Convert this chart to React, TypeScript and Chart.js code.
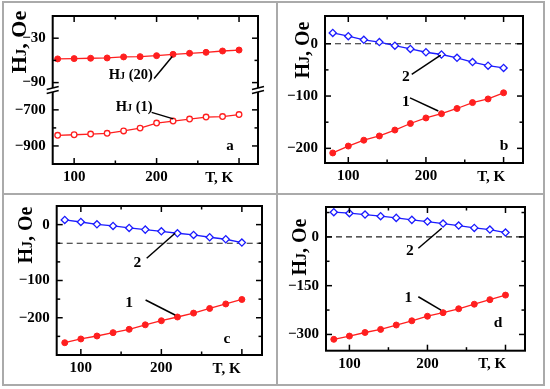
import React, { useEffect, useRef } from "react";
import { Chart, registerables } from "chart.js";
Chart.register(...registerables);

const FONT = "'Liberation Serif', 'Times New Roman', serif";
const RED = "#ff1f1f";
const BLUE = "#1c1cff";

// ---------- data ----------
const T_K = [80, 100, 120, 140, 160, 180, 200, 220, 240, 260, 280, 300];

const A_HJ20 = [-58, -57.6, -57.1, -56.7, -55.3, -54.9, -53.6, -51.8, -50.4, -49.1, -47.3, -46];
const A_HJ1 = [-841, -838, -834, -830, -817, -801, -773, -762, -751, -740, -737, -726];

const B_S1 = [-208.8, -195.6, -184.4, -176.3, -165, -152.5, -141.9, -133.8, -123.8, -112.5, -105.6, -93.8];
const B_S2 = [20.6, 14.4, 7.5, 3.1, -3.8, -10, -16.3, -20.6, -26.9, -35, -41.9, -46.3];

const C_S1 = [-267, -257, -249, -240, -231, -219, -208, -198, -187.5, -175, -163, -151];
const C_S2 = [62.5, 57.1, 50.9, 46.4, 41.1, 36.6, 32.1, 26.8, 22.3, 16.1, 10.7, 1.8];

const D_S1 = [-315, -305, -294, -284.5, -271, -258, -244, -233, -221, -207, -193, -179];
const D_S2 = [76, 72.9, 68.8, 63.7, 58.5, 52.4, 47.2, 41.1, 34.9, 27.7, 22.6, 13.4];

// ---------- ticks ----------
const X_MAJOR = [100, 200, 300];
const X_MINOR = [150, 250];
const X_LABELS: Record<string, string> = { "100": "100", "200": "200" };
const X_TITLE = "T, K";

const A_TOP_MAJOR = [-30, -90];
const A_TOP_MINOR = [-60];
const A_TOP_LABELS: Record<string, string> = { "-30": "\u221230", "-90": "\u221290" };
const A_BOT_MAJOR = [-700, -900];
const A_BOT_MINOR = [-800];
const A_BOT_LABELS: Record<string, string> = { "-700": "\u2212700", "-900": "\u2212900" };

const B_MAJOR = [0, -100, -200];
const B_MINOR = [-50, -150];
const B_LABELS: Record<string, string> = { "0": "0", "-100": "\u2212100", "-200": "\u2212200" };

const C_MAJOR = [50, -100, -200];
const C_MINOR = [0, -50, -150, -250];
const C_LABELS: Record<string, string> = { "50": "0", "-100": "\u2212100", "-200": "\u2212200" };

const D_MAJOR = [0, -150, -300];
const D_MINOR = [75, -75, -225];
const D_LABELS: Record<string, string> = { "0": "0", "-150": "\u2212150", "-300": "\u2212300" };

type YAx = { id: string; min: number; max: number; major: number[]; minor: number[]; labels: Record<string, string>; weight?: number };
type Txt = { x: number; y: number; axis: string; text: string; size: number; hj?: boolean };
type Ln = { x1: number; y1: number; x2: number; y2: number; axis: string };
type DS = { data: number[]; axis: string; style: "filled" | "hollow" | "diamond" };
type Spec = {
  pad: { left: number; right: number; top: number; bottom: number };
  xMin: number; xMax: number;
  yAxes: YAx[];
  datasets: DS[];
  dashedZero?: string;
  title: { dx: number; dy: number; size: number };
  texts: Txt[];
  lines: Ln[];
  xTitleAt: number;
};

const PANELS: Spec[] = [
  {
    pad: { left: 7.7, right: 292, top: 14, bottom: 200 },
    xMin: 74, xMax: 323,
    yAxes: [
      { id: "yBot", min: -1000, max: -590, major: A_BOT_MAJOR, minor: A_BOT_MINOR, labels: A_BOT_LABELS },
      { id: "yTop", min: -100, max: 0, major: A_TOP_MAJOR, minor: A_TOP_MINOR, labels: A_TOP_LABELS },
    ],
    datasets: [
      { data: A_HJ20, axis: "yTop", style: "filled" },
      { data: A_HJ1, axis: "yBot", style: "hollow" },
    ],
    title: { dx: 34, dy: 26, size: 22 },
    texts: [
      { x: 168.7, y: -79, axis: "yTop", text: " (20)", size: 14.5, hj: true },
      { x: 172.8, y: -682, axis: "yBot", text: " (1)", size: 14.5, hj: true },
      { x: 289, y: -896, axis: "yBot", text: "a", size: 15 },
    ],
    lines: [
      { x1: 197, y1: -84.4, x2: 219, y2: -54.7, axis: "yTop" },
      { x1: 194, y1: -714, x2: 220.3, y2: -750, axis: "yBot" },
    ],
    xTitleAt: 276,
  },
  {
    pad: { left: 280, right: 27, top: 13.3, bottom: 201 },
    xMin: 70, xMax: 325,
    yAxes: [{ id: "y", min: -228, max: 53, major: B_MAJOR, minor: B_MINOR, labels: B_LABELS }],
    datasets: [
      { data: B_S2, axis: "y", style: "diamond" },
      { data: B_S1, axis: "y", style: "filled" },
    ],
    dashedZero: "y",
    title: { dx: 23, dy: 34, size: 20 },
    texts: [
      { x: 174, y: -61, axis: "y", text: "2", size: 15.5 },
      { x: 174, y: -108.4, axis: "y", text: "1", size: 15.5 },
      { x: 300.5, y: -194, axis: "y", text: "b", size: 15.5 },
    ],
    lines: [
      { x1: 181.7, y1: -58.5, x2: 219, y2: -22, axis: "y" },
      { x1: 179.5, y1: -103.6, x2: 215.9, y2: -128.5, axis: "y" },
    ],
    xTitleAt: 284,
  },
  {
    pad: { left: 11.7, right: 288, top: 206, bottom: 9 },
    xMin: 70, xMax: 325,
    yAxes: [{ id: "y", min: -300, max: 100, major: C_MAJOR, minor: C_MINOR, labels: C_LABELS }],
    datasets: [
      { data: C_S2, axis: "y", style: "diamond" },
      { data: C_S1, axis: "y", style: "filled" },
    ],
    dashedZero: "y",
    title: { dx: 31, dy: 29, size: 20 },
    texts: [
      { x: 170.1, y: -49.5, axis: "y", text: "2", size: 15.5 },
      { x: 160.1, y: -156.9, axis: "y", text: "1", size: 15.5 },
      { x: 281.5, y: -254.4, axis: "y", text: "c", size: 15.5 },
    ],
    lines: [
      { x1: 181.8, y1: -40.4, x2: 217, y2: 26.7, axis: "y" },
      { x1: 180.4, y1: -152.3, x2: 217, y2: -192.6, axis: "y" },
    ],
    xTitleAt: 281,
  },
  {
    pad: { left: 281, right: 25, top: 207, bottom: 13.3 },
    xMin: 70, xMax: 325,
    yAxes: [{ id: "y", min: -350, max: 92, major: D_MAJOR, minor: D_MINOR, labels: D_LABELS }],
    datasets: [
      { data: D_S2, axis: "y", style: "diamond" },
      { data: D_S1, axis: "y", style: "filled" },
    ],
    dashedZero: "y",
    title: { dx: 27, dy: 40, size: 20 },
    texts: [
      { x: 177.6, y: -40.3, axis: "y", text: "2", size: 15.5 },
      { x: 175.5, y: -184, axis: "y", text: "1", size: 15.5 },
      { x: 290.4, y: -261.7, axis: "y", text: "d", size: 15.5 },
    ],
    lines: [
      { x1: 188.3, y1: -35, x2: 218.3, y2: 26.5, axis: "y" },
      { x1: 188.3, y1: -184, x2: 217.4, y2: -225, axis: "y" },
    ],
    xTitleAt: 283,
  },
];

function drawHJ(ctx: CanvasRenderingContext2D, cx: number, cy: number, size: number, rest: string) {
  const big = `bold ${size}px ${FONT}`;
  const small = `bold ${Math.round(size * 0.7)}px ${FONT}`;
  ctx.font = big;
  const wH = ctx.measureText("H").width;
  const wR = ctx.measureText(rest).width;
  ctx.font = small;
  const wJ = ctx.measureText("J").width;
  const total = wH + wJ + wR;
  let x = cx - total / 2;
  const base = cy + size * 0.33;
  ctx.textAlign = "left";
  ctx.textBaseline = "alphabetic";
  ctx.font = big;
  ctx.fillText("H", x, base);
  x += wH;
  ctx.font = small;
  ctx.fillText("J", x, base);
  x += wJ;
  ctx.font = big;
  ctx.fillText(rest, x, base);
}

function styleFor(s: DS["style"]) {
  if (s === "filled")
    return { borderColor: RED, backgroundColor: RED, pointBackgroundColor: RED, pointBorderColor: RED, pointRadius: 3, pointBorderWidth: 1, borderWidth: 1.3, pointStyle: "circle" };
  if (s === "hollow")
    return { borderColor: RED, backgroundColor: "#fff", pointBackgroundColor: "#fff", pointBorderColor: RED, pointRadius: 2.8, pointBorderWidth: 1.3, borderWidth: 1.3, pointStyle: "circle" };
  return { borderColor: BLUE, backgroundColor: "#fff", pointBackgroundColor: "#fff", pointBorderColor: BLUE, pointRadius: 3.6, pointBorderWidth: 1.3, borderWidth: 1.3, pointStyle: "rectRot" };
}

function buildConfig(p: Spec): any {
  const tickFont = { family: FONT, size: 15, weight: "bold" as const };
  const scales: any = {
    x: {
      type: "linear",
      position: "bottom",
      min: p.xMin,
      max: p.xMax,
      grid: { display: false, drawTicks: false },
      border: { display: false },
      afterFit: (s: any) => { s.height = 25; },
      afterBuildTicks: (s: any) => {
        s.ticks = [...X_MAJOR, ...X_MINOR].sort((a, b) => a - b).map((v) => ({ value: v }));
      },
      ticks: { autoSkip: false, maxRotation: 0, padding: 4, color: "#000", font: tickFont, callback: (v: any) => X_LABELS[String(v)] ?? "" },
    },
  };
  p.yAxes.forEach((ax) => {
    scales[ax.id] = {
      type: "linear",
      position: "left",
      min: ax.min,
      max: ax.max,
      ...(p.yAxes.length > 1 ? { stack: "a", stackWeight: ax.weight ?? 1 } : {}),
      grid: { display: false, drawTicks: false },
      border: { display: false },
      afterFit: (s: any) => { s.width = 45; },
      afterBuildTicks: (s: any) => {
        s.ticks = [...ax.major, ...ax.minor].sort((a, b) => a - b).map((v) => ({ value: v }));
      },
      ticks: { autoSkip: false, padding: 7, color: "#000", font: tickFont, callback: (v: any) => ax.labels[String(v)] ?? "" },
    };
  });

  const deco = {
    id: "deco",
    beforeDatasetsDraw(chart: any) {
      if (!p.dashedZero) return;
      const { ctx, chartArea: ca } = chart;
      const y = chart.scales[p.dashedZero].getPixelForValue(0);
      ctx.save();
      ctx.setLineDash([6, 4]);
      ctx.strokeStyle = "#222";
      ctx.lineWidth = 1.2;
      ctx.beginPath();
      ctx.moveTo(ca.left, y);
      ctx.lineTo(ca.right, y);
      ctx.stroke();
      ctx.restore();
    },
    afterDraw(chart: any) {
      const { ctx, chartArea: ca } = chart;
      ctx.save();
      ctx.strokeStyle = "#000";
      ctx.lineWidth = 1.5;
      const seg = (x1: number, y1: number, x2: number, y2: number) => {
        ctx.beginPath();
        ctx.moveTo(x1, y1);
        ctx.lineTo(x2, y2);
        ctx.stroke();
      };
      const xs = chart.scales.x;
      const tickX = (v: number, len: number) => {
        const px = xs.getPixelForValue(v);
        seg(px, ca.bottom, px, ca.bottom - len);
        seg(px, ca.top, px, ca.top + len);
      };
      X_MAJOR.forEach((v) => tickX(v, 6));
      X_MINOR.forEach((v) => tickX(v, 3.5));
      p.yAxes.forEach((ax) => {
        const s = chart.scales[ax.id];
        const tickY = (v: number, len: number) => {
          const py = s.getPixelForValue(v);
          seg(ca.left, py, ca.left + len, py);
          seg(ca.right, py, ca.right - len, py);
        };
        ax.major.forEach((v) => tickY(v, 6));
        ax.minor.forEach((v) => tickY(v, 3.5));
      });
      // frame
      ctx.lineWidth = 2;
      ctx.strokeRect(ca.left, ca.top, ca.right - ca.left, ca.bottom - ca.top);

      // axis break
      if (p.yAxes.length > 1) {
        const yb = Math.min(...p.yAxes.map((a) => chart.scales[a.id].bottom));
        [ca.left, ca.right].forEach((x) => {
          ctx.fillStyle = "#fff";
          ctx.fillRect(x - 3, yb - 2, 6, 4);
          ctx.lineWidth = 1.4;
          seg(x - 6, yb - 0.5, x + 6, yb - 3.5);
          seg(x - 6, yb + 3.5, x + 6, yb + 0.5);
        });
      }

      // leader lines
      ctx.lineWidth = 1.5;
      ctx.strokeStyle = "#000";
      p.lines.forEach((l) => {
        const s = chart.scales[l.axis];
        seg(xs.getPixelForValue(l.x1), s.getPixelForValue(l.y1), xs.getPixelForValue(l.x2), s.getPixelForValue(l.y2));
      });

      // texts
      ctx.fillStyle = "#000";
      p.texts.forEach((t) => {
        const s = chart.scales[t.axis];
        const px = xs.getPixelForValue(t.x);
        const py = s.getPixelForValue(t.y);
        if (t.hj) {
          drawHJ(ctx, px, py, t.size, t.text);
        } else {
          ctx.font = `bold ${t.size}px ${FONT}`;
          ctx.textAlign = "center";
          ctx.textBaseline = "alphabetic";
          ctx.fillText(t.text, px, py + t.size * 0.33);
        }
      });

      // x title placed in the tick-label row
      ctx.font = `bold 15px ${FONT}`;
      ctx.textAlign = "center";
      ctx.textBaseline = "alphabetic";
      ctx.fillText(X_TITLE, xs.getPixelForValue(p.xTitleAt), ca.bottom + 17.5);

      // y title
      ctx.save();
      ctx.translate(ca.left - p.title.dx, ca.top + p.title.dy);
      ctx.rotate(-Math.PI / 2);
      drawHJ(ctx, 0, 0, p.title.size, ", Oe");
      ctx.restore();

      ctx.restore();
    },
  };

  return {
    type: "line",
    data: {
      datasets: p.datasets.map((d) => ({
        data: T_K.map((t, i) => ({ x: t, y: d.data[i] })),
        yAxisID: d.axis,
        xAxisID: "x",
        tension: 0,
        fill: false,
        ...styleFor(d.style),
      })),
    },
    options: {
      animation: false,
      responsive: false,
      devicePixelRatio: 1,
      events: [],
      layout: { padding: p.pad, autoPadding: false },
      plugins: { legend: { display: false }, tooltip: { enabled: false }, title: { display: false } },
      scales,
    },
    plugins: [deco],
  };
}

function Panel({ spec }: { spec: Spec }) {
  const ref = useRef<HTMLCanvasElement>(null);
  useEffect(() => {
    const chart = new Chart(ref.current as HTMLCanvasElement, buildConfig(spec));
    return () => chart.destroy();
  }, [spec]);
  return (
    <canvas
      ref={ref}
      width={550}
      height={389}
      style={{ position: "absolute", left: 0, top: 0, width: 550, height: 389 }}
    />
  );
}

export default function App() {
  const line = "#aaaaaa";
  return (
    <div style={{ position: "absolute", left: 0, top: 0, width: 550, height: 389, background: "#fff", overflow: "hidden" }}>
      <div style={{ position: "absolute", left: 2, top: 1, width: 539, height: 381, border: `2px solid ${line}` }} />
      <div style={{ position: "absolute", left: 276, top: 1, width: 2, height: 384, background: line }} />
      <div style={{ position: "absolute", left: 2, top: 193, width: 541, height: 2, background: line }} />
      {PANELS.map((p, i) => (
        <Panel key={i} spec={p} />
      ))}
    </div>
  );
}
